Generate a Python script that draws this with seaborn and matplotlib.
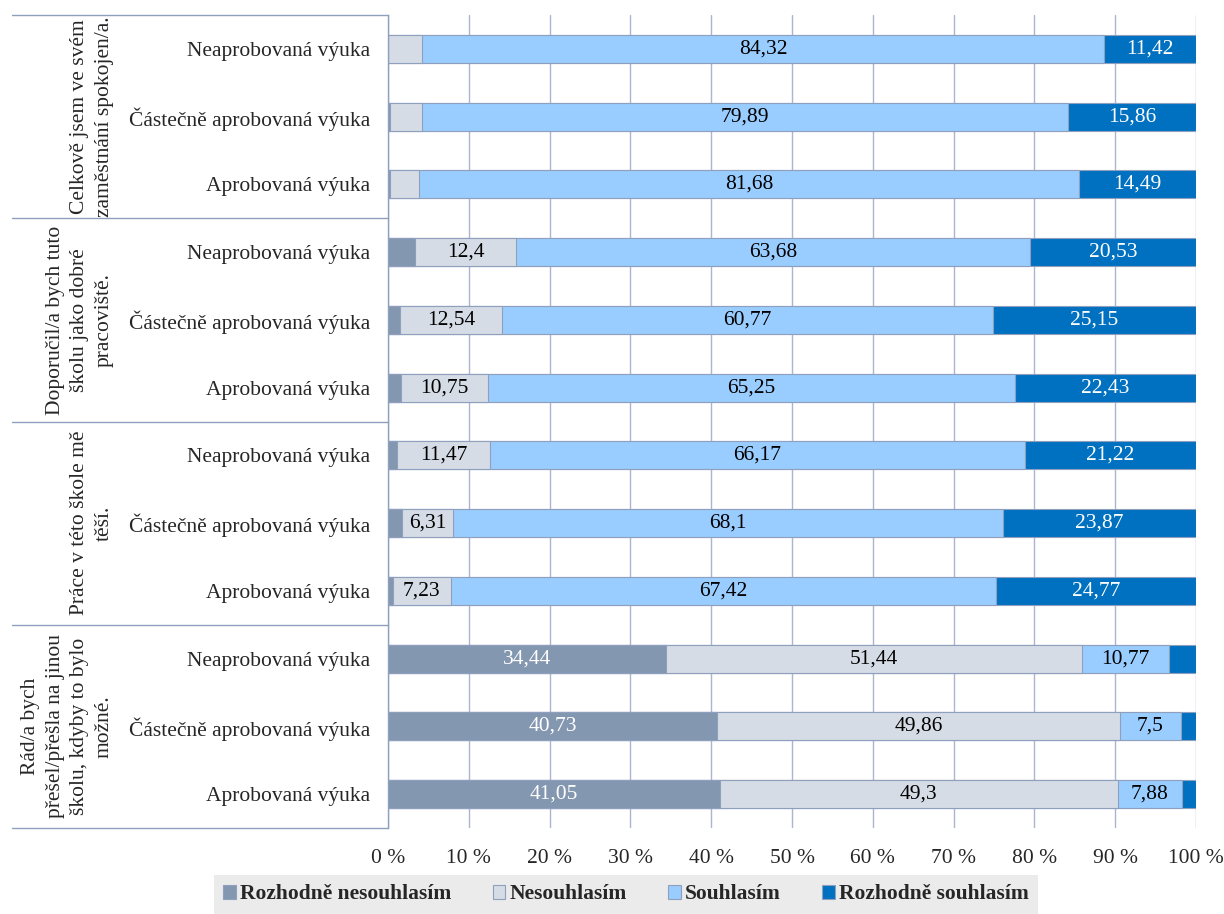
import numpy as np
import pandas as pd
import matplotlib
matplotlib.use("Agg")
import matplotlib.pyplot as plt
import matplotlib.transforms as mtrans
from matplotlib.patches import Patch
import seaborn as sns

# --- data ---
groups = [
    "Celkově jsem ve svém\nzaměstnání spokojen/a.",
    "Doporučil/a bych tuto\nškolu jako dobré\npracoviště.",
    "Práce v této škole mě\ntěší.",
    "Rád/a bych\npřešel/přešla na jinou\nškolu, kdyby to bylo\nmožné.",
]
categories = ["Neaprobovaná výuka", "Částečně aprobovaná výuka", "Aprobovaná výuka"]
series = ["Rozhodně nesouhlasím", "Nesouhlasím", "Souhlasím", "Rozhodně souhlasím"]

rozhodne_nesouhlasim = [0.0, 0.3, 0.2, 3.39, 1.54, 1.57, 1.14, 1.72, 0.58, 34.44, 40.73, 41.05]
nesouhlasim = [4.26, 3.95, 3.63, 12.4, 12.54, 10.75, 11.47, 6.31, 7.23, 51.44, 49.86, 49.3]
souhlasim = [84.32, 79.89, 81.68, 63.68, 60.77, 65.25, 66.17, 68.1, 67.42, 10.77, 7.5, 7.88]
rozhodne_souhlasim = [11.42, 15.86, 14.49, 20.53, 25.15, 22.43, 21.22, 23.87, 24.77, 3.35, 1.91, 1.77]

colors = ["#8497B0", "#D6DCE5", "#99CCFF", "#0070C0"]
text_colors = ["white", "black", "black", "white"]
edge = "#8EA0BE"
fs = 15.5

keys = [f"{g}|{c}" for g in range(len(groups)) for c in categories]
df = pd.DataFrame({
    "key": keys,
    series[0]: rozhodne_nesouhlasim,
    series[1]: nesouhlasim,
    series[2]: souhlasim,
    series[3]: rozhodne_souhlasim,
})
cum = df[series].cumsum(axis=1)
for s in series:
    df["cum_" + s] = cum[s]

sns.set_style("white")
plt.rcParams["font.family"] = ["Liberation Serif", "DejaVu Serif"]

fig = plt.figure(figsize=(12.24, 9.14), dpi=100)
ax = fig.add_axes([388 / 1224, 1 - 828 / 914, 808 / 1224, 813 / 914])

# stacked bars: overlay cumulative totals, longest first
for s, col in reversed(list(zip(series, colors))):
    sns.barplot(data=df, x="cum_" + s, y="key", order=keys, color=col,
                saturation=1, width=0.41, edgecolor=edge, linewidth=0.8, ax=ax)

# value labels
for i, row in df.iterrows():
    for s, tc in zip(series, text_colors):
        v = row[s]
        if v >= 5:
            xc = row["cum_" + s] - v / 2
            ax.text(xc, i, f"{v:g}".replace(".", ","), ha="center", va="center",
                    color=tc, fontsize=fs)

ax.set_xlim(0, 100)
ax.set_ylim(len(keys) - 0.5, -0.5)
ax.set_xticks(range(0, 101, 10))
ax.set_xticklabels([f"{t} %" for t in range(0, 101, 10)], fontsize=fs)
ax.set_yticks(range(len(keys)))
ax.set_yticklabels(categories * len(groups), fontsize=fs)
ax.tick_params(axis="both", length=0)
ax.tick_params(axis="x", pad=15)
ax.tick_params(axis="y", pad=13)
ax.set_xlabel("")
ax.set_ylabel("")

ax.xaxis.grid(True, color="#A9B6CD", linewidth=1)
ax.yaxis.grid(False)
ax.set_axisbelow(True)
for side in ["top", "right", "bottom"]:
    ax.spines[side].set_visible(False)
ax.spines["left"].set_color(edge)
ax.spines["left"].set_linewidth(1)

# group separators and rotated group labels on the left
trans = mtrans.blended_transform_factory(ax.transAxes, ax.transData)
x_left = (12 - 388) / 808
for b in np.arange(-0.5, len(keys), 3):
    ax.plot([x_left, 0], [b, b], color=edge, linewidth=1, transform=trans, clip_on=False)
for g, label in enumerate(groups):
    ax.text((114 - 388) / 808, g * 3 + 1, label, rotation=90, ha="right", va="center",
            multialignment="center", fontsize=fs, linespacing=1.4, transform=trans)

handles = [Patch(facecolor=c, edgecolor=edge, linewidth=0.8) for c in colors]
leg = fig.legend(handles, series, loc="lower center", bbox_to_anchor=(626 / 1224, 0.0),
                 ncol=4, frameon=True, fancybox=False, facecolor="#E7E6E6",
                 edgecolor="none", prop={"weight": "bold", "size": 15.5},
                 handlelength=0.6, handleheight=0.6, handletextpad=0.2,
                 columnspacing=1.9, borderaxespad=0, borderpad=0.45)
leg.get_frame().set_linewidth(0)

fig.savefig("out.png", dpi=100)
